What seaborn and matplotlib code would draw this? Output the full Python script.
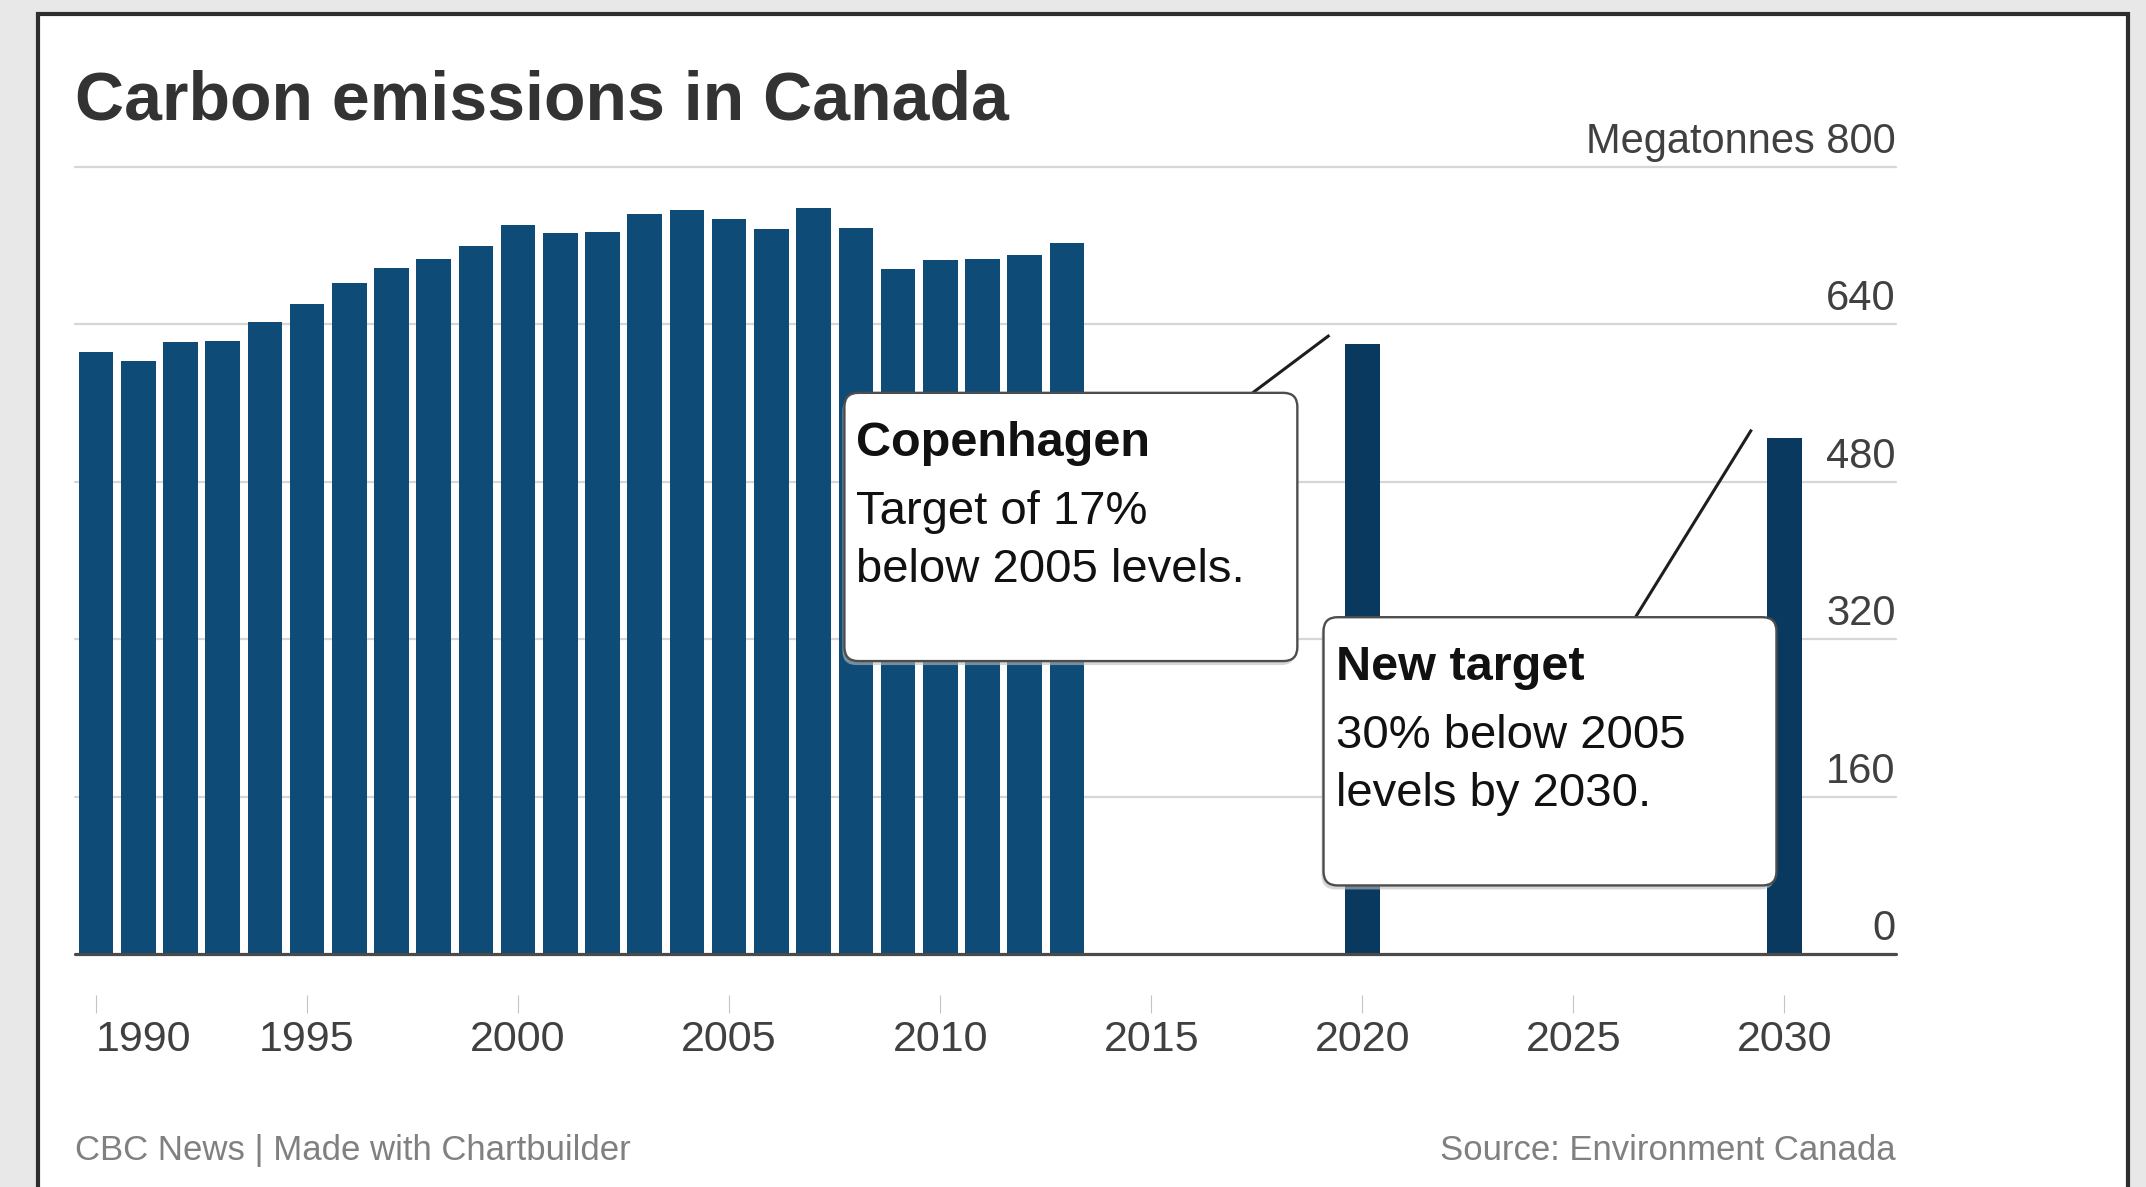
import matplotlib
matplotlib.use("Agg")
import matplotlib.pyplot as plt
import matplotlib.transforms as mtransforms
from matplotlib.patches import FancyBboxPatch, Rectangle
import pandas as pd
import seaborn as sns

# ---- data -------------------------------------------------------------
actual_years = list(range(1990, 2014))
actual_mt = [612, 603, 622, 623, 642, 661, 682, 697, 706, 720, 741, 733,
             734, 752, 756, 747, 737, 758, 738, 696, 705, 706, 711, 723]
target_years = [2020, 2030]
target_mt = [620, 524]

x_ticks = [1990, 1995, 2000, 2005, 2010, 2015, 2020, 2025, 2030]
y_ticks = [0, 160, 320, 480, 640, 800]
y_tick_labels = ["0", "160", "320", "480", "640", "Megatonnes 800"]

title = "Carbon emissions in Canada"
credit = "CBC News | Made with Chartbuilder"
source = "Source: Environment Canada"

callout_titles = ["Copenhagen", "New target"]
callout_bodies = [["Target of 17%", "below 2005 levels."],
                  ["30% below 2005", "levels by 2030."]]

df = pd.DataFrame({
    "year": actual_years + target_years,
    "megatonnes": actual_mt + target_mt,
    "kind": ["Actual"] * len(actual_years) + ["Target"] * len(target_years),
})

# ---- figure -----------------------------------------------------------
W, H, DPI = 2146, 1187, 100
sns.set_theme(style="white")
plt.rcParams["font.family"] = ["Liberation Sans", "DejaVu Sans"]

fig = plt.figure(figsize=(W / DPI, H / DPI), dpi=DPI, facecolor="#e8e8e8")

# white card with a dark frame, kept underneath the axes
card = Rectangle((38 / W, -0.05), (2128 - 38) / W, (1 - 14 / H) + 0.05,
                 transform=fig.transFigure, facecolor="white",
                 edgecolor="#2e2e2e", linewidth=3, zorder=-10)
fig.patches.append(card)

left, right = 75.3 / W, 1895.5 / W
bottom, top = 1 - 953.9 / H, 1 - 167.0 / H
ax = fig.add_axes([left, bottom, right - left, top - bottom])
ax.patch.set_alpha(0)

XMIN, XMAX = 1989.51, 2032.63
YMIN, YMAX = 0, 800

# gridlines behind the bars
for v in y_ticks[1:]:
    ax.axhline(v, color="#d6d6d6", lw=1.6, zorder=0.5, clip_on=False)

sns.barplot(data=df, x="year", y="megatonnes", hue="kind",
            palette={"Actual": "#0e4b77", "Target": "#09395f"},
            native_scale=True, width=0.82, dodge=False, saturation=1,
            legend=False, edgecolor="none", zorder=2, ax=ax)

ax.axhline(0, color="#4a4a4a", lw=2.3, zorder=3, clip_on=False)

ax.set_xlim(XMIN, XMAX)
ax.set_ylim(YMIN, YMAX)
ax.set_xlabel("")
ax.set_ylabel("")
for s in ax.spines.values():
    s.set_visible(False)

# x axis: detached tick marks below the baseline
ax.spines["bottom"].set_position(("outward", 41 * 72 / DPI))
ax.set_xticks(x_ticks, labels=[str(t) for t in x_ticks])
ax.tick_params(axis="x", bottom=True, direction="out", length=13, width=0.8,
               color="#c4c4c4", pad=5, labelsize=31, labelcolor="#404040")
ax.get_xticklabels()[0].set_horizontalalignment("left")
ax.tick_params(axis="y", left=False, right=False, labelleft=False)
ax.set_yticks([])

# y labels sit right-aligned just above their gridlines
lift = mtransforms.ScaledTranslation(0, 14 / DPI, fig.dpi_scale_trans)
ytrans = mtransforms.blended_transform_factory(ax.transAxes, ax.transData) + lift
for v, lab in zip(y_ticks, y_tick_labels):
    ax.text(1.0, v, lab, transform=ytrans, ha="right", va="baseline",
            fontsize=30, color="#404040")

# ---- callouts ---------------------------------------------------------
ax_w_px = (right - left) * W
ax_h_px = (top - bottom) * H
px_x = (XMAX - XMIN) / ax_w_px      # years per pixel
px_y = (YMAX - YMIN) / ax_h_px      # megatonnes per pixel
aspect = px_y / px_x

boxes = [
    dict(x0=2007.73, x1=2018.46, y0=297.7, y1=570.4, root=2017.4),
    dict(x0=2019.08, x1=2029.81, y0=69.6, y1=342.3, root=2026.47),
]
line_offsets = [63, 131, 189]   # baselines below the box top, pixels

for box, t_year, t_val, head, body in zip(boxes, target_years, target_mt,
                                          callout_titles, callout_bodies):
    # leader line from the box to the top of the target bar
    ax.plot([box["root"], t_year - 0.78], [box["y1"], t_val + 9],
            color="#1e1e1e", lw=2.2, zorder=4, solid_capstyle="butt")

    style = f"round,pad=0,rounding_size={14 * px_x:.4f}"
    shadow = FancyBboxPatch((box["x0"] - 2 * px_x, box["y0"] - 4 * px_y),
                            box["x1"] - box["x0"], box["y1"] - box["y0"],
                            boxstyle=style, mutation_aspect=aspect,
                            facecolor="#bdbdbd", edgecolor="none",
                            alpha=0.6, zorder=4.5)
    ax.add_patch(shadow)
    patch = FancyBboxPatch((box["x0"], box["y0"]),
                           box["x1"] - box["x0"], box["y1"] - box["y0"],
                           boxstyle=style, mutation_aspect=aspect,
                           facecolor="white", edgecolor="#4d4d4d",
                           linewidth=1.7, zorder=5)
    ax.add_patch(patch)

    for i, (txt, dy) in enumerate(zip([head] + body, line_offsets)):
        off = mtransforms.ScaledTranslation(12 / DPI, -dy / DPI,
                                            fig.dpi_scale_trans)
        ax.text(box["x0"], box["y1"], txt, transform=ax.transData + off,
                ha="left", va="baseline", fontsize=35 if i == 0 else 34,
                fontweight="bold" if i == 0 else "normal",
                color="#111111", zorder=6)

# ---- title and footer -------------------------------------------------
fig.text(75 / W, 1 - 120 / H, title, ha="left", va="baseline",
         fontsize=49, fontweight="bold", color="#333333")
fig.text(75 / W, 1 - 1160 / H, credit, ha="left", va="baseline",
         fontsize=25, color="#808080")
fig.text(right, 1 - 1160 / H, source, ha="right", va="baseline",
         fontsize=25, color="#808080")

fig.savefig("out.png", dpi=DPI, facecolor=fig.get_facecolor())
